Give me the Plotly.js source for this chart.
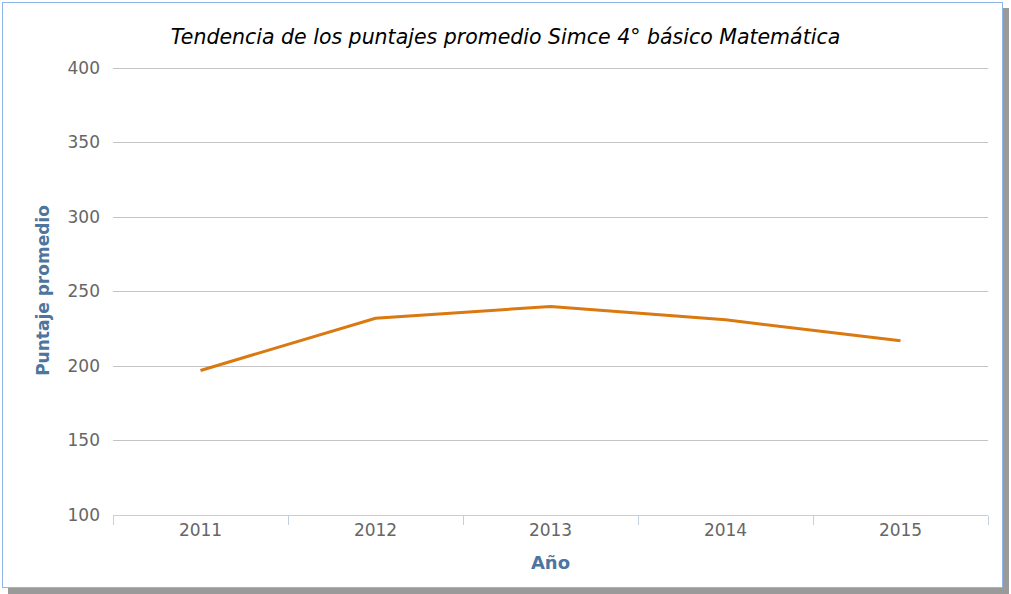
<!DOCTYPE html>
<html><head><meta charset="utf-8">
<script src="https://cdn.plot.ly/plotly-3.0.1.min.js"></script>
<style>
html,body{margin:0;padding:0;background:#fff;width:1011px;height:594px;overflow:hidden;}
#frame{position:absolute;left:2px;top:2px;width:999px;height:584px;border:1px solid #8fb6e6;background:#fff;box-shadow:6px 6px 0 #9a9a9a;}
#chart{position:absolute;left:0;top:0;width:1011px;height:594px;}
</style></head>
<body>
<div id="frame"></div>
<div id="chart"></div>
<script>
const years = ['2011','2012','2013','2014','2015'];
const puntajes = [197, 232, 240, 231, 217];
const yTicks = [100,150,200,250,300,350,400];

const trace = {
  x: years, y: puntajes, type: 'scatter', mode: 'lines',
  line: {color: '#d9790f', width: 3},
  hoverinfo: 'x+y'
};
const layout = {
  width: 1011, height: 594,
  paper_bgcolor: 'rgba(0,0,0,0)', plot_bgcolor: 'rgba(0,0,0,0)',
  margin: {l: 113, r: 23, t: 66, b: 79},
  showlegend: false,
  font: {family: 'DejaVu Sans, Verdana, sans-serif', color: '#666'},
  title: {
    text: 'Tendencia de los puntajes promedio Simce 4° básico Matemática',
    font: {family: 'DejaVu Sans, Verdana, sans-serif', size: 20.5, color: '#000', style: 'italic'},
    x: 0.5, xanchor: 'center', xref: 'container', y: 1 - 37/594, yref: 'container', yanchor: 'middle'
  },
  xaxis: {
    type: 'category', range: [-0.5, 4.5],
    tickson: 'boundaries', ticks: 'outside', ticklen: 9, tickcolor: '#c0d0e0', tickwidth: 1,
    showline: true, linecolor: '#c0d0e0', linewidth: 1, showgrid: false, zeroline: false,
    tickfont: {size: 17, color: '#666'},
    ticklabelstandoff: 0,
    title: {text: 'Año', font: {size: 18, color: '#4d759e', weight: 'bold'}, standoff: 16}
  },
  yaxis: {
    range: [100, 401.34], tickvals: yTicks, showgrid: true, gridcolor: '#c4c4c4', gridwidth: 1,
    zeroline: false, showline: false, ticks: '',
    tickfont: {size: 17, color: '#666'}, ticklabelstandoff: 12,
    title: {text: 'Puntaje promedio', font: {size: 17, color: '#4d759e', weight: 'bold'}, standoff: 13}
  }
};
Plotly.newPlot('chart', [trace], layout, {displayModeBar: false, staticPlot: true});
</script>
</body></html>
